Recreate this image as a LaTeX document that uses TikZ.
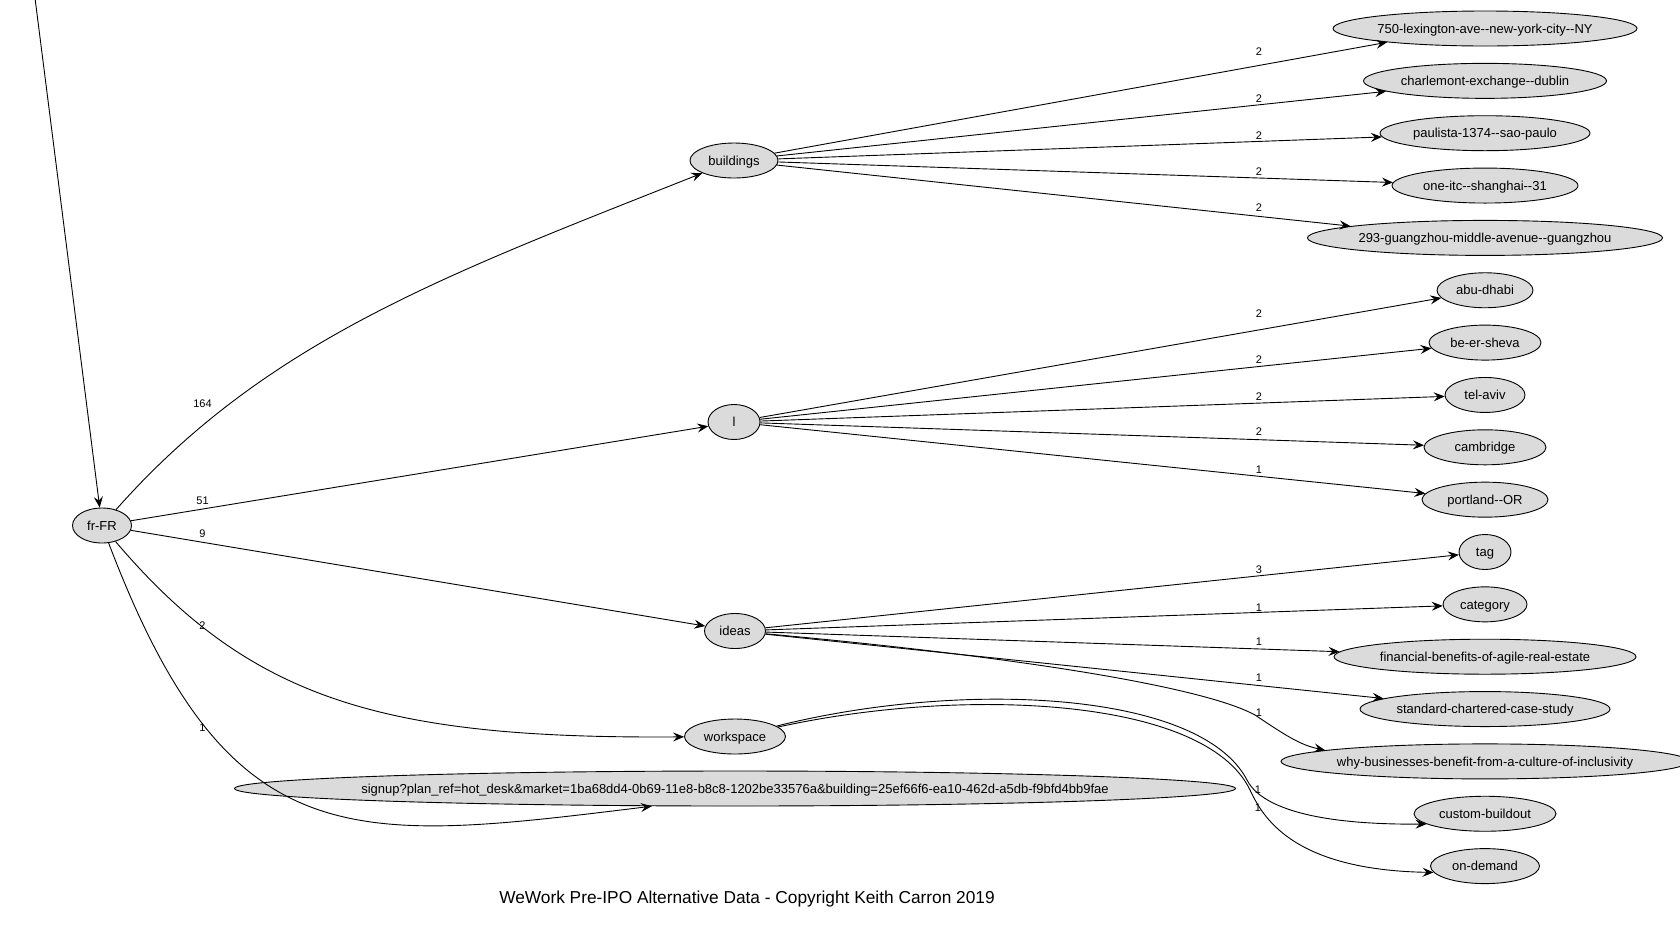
\documentclass[tikz,border=0pt]{standalone}
\usepackage{fontspec}
\setmainfont{Liberation Sans}[Ligatures=TeXOff]
\usetikzlibrary{shapes.geometric,arrows.meta}
\definecolor{nodefill}{RGB}{219,219,219}
% zero-width box: the ellipse size is set only by minimum width/height
\newcommand{\ztext}[1]{\makebox[0pt][c]{#1}}
\begin{document}
\begin{tikzpicture}[x=1pt,y=-1pt,
  nd/.style={ellipse, draw=black, fill=nodefill, line width=0.9pt, inner sep=0pt,
             minimum height=35pt, text height=9.3pt, text depth=0pt,
             font=\fontsize{13}{15}\selectfont},
  lbl/.style={inner sep=0pt, font=\fontsize{11}{13}\selectfont},
  edge/.style={line width=0.9pt, -{Stealth[length=11pt,width=9pt,inset=4pt]}},
]
\useasboundingbox[fill=white] (0,0) rectangle (1680,938);

% ---- nodes ----
\coordinate (top) at (35,-2);
\node[nd, minimum width=59pt]  (fr)    at (102,525.5) {\ztext{fr-FR}};
\node[nd, minimum width=88pt]  (bld)   at (734,160.5) {\ztext{buildings}};
\node[nd, minimum width=52pt]  (lnode) at (734,422)   {\ztext{l}};
\node[nd, minimum width=61pt]  (ideas) at (735,631)   {\ztext{ideas}};
\node[nd, minimum width=101pt] (ws)    at (735,736.5) {\ztext{workspace}};
\node[nd, minimum width=1001pt] (signup) at (735,788.5)
  {\ztext{signup?plan\_ref=hot\_desk\&market=1ba68dd4-0b69-11e8-b8c8-1202be33576a\&building=25ef66f6-ea10-462d-a5db-f9bfd4bb9fae}};

\node[nd, minimum width=304pt] (lex) at (1485,28.5)   {\ztext{750-lexington-ave--new-york-city--NY}};
\node[nd, minimum width=243pt] (dub) at (1485,80.85)  {\ztext{charlemont-exchange--dublin}};
\node[nd, minimum width=210pt] (sao) at (1485,133.2)  {\ztext{paulista-1374--sao-paulo}};
\node[nd, minimum width=186pt] (sha) at (1485,185.55) {\ztext{one-itc--shanghai--31}};
\node[nd, minimum width=355pt] (gz)  at (1485,237.9)  {\ztext{293-guangzhou-middle-avenue--guangzhou}};
\node[nd, minimum width=96pt]  (abu) at (1485,290.25) {\ztext{abu-dhabi}};
\node[nd, minimum width=112pt] (bee) at (1485,342.6)  {\ztext{be-er-sheva}};
\node[nd, minimum width=80pt]  (tlv) at (1485,394.95) {\ztext{tel-aviv}};
\node[nd, minimum width=122pt] (cam) at (1485,447.3)  {\ztext{cambridge}};
\node[nd, minimum width=126pt] (por) at (1485,499.65) {\ztext{portland--OR}};
\node[nd, minimum width=52pt]  (tag) at (1485,552)    {\ztext{tag}};
\node[nd, minimum width=84pt]  (cat) at (1485,604.35) {\ztext{category}};
\node[nd, minimum width=302pt] (fin) at (1485,656.7)  {\ztext{financial-benefits-of-agile-real-estate}};
\node[nd, minimum width=250pt] (std) at (1485,709.05) {\ztext{standard-chartered-case-study}};
\node[nd, minimum width=408pt] (why) at (1485,761.4)  {\ztext{why-businesses-benefit-from-a-culture-of-inclusivity}};
\node[nd, minimum width=142pt] (cb)  at (1485,813.75) {\ztext{custom-buildout}};
\node[nd, minimum width=109pt] (od)  at (1485,866.1)  {\ztext{on-demand}};

\node[anchor=base, inner sep=0pt, font=\fontsize{17.3}{20}\selectfont] (title) at (747,903.3)
  {WeWork Pre-IPO Alternative Data - Copyright Keith Carron 2019};

% ---- edges ----
\draw[edge] (top) -- (fr);
\draw[edge] (fr) .. controls (266,340) and (448,274) .. (bld);
\draw[edge] (fr) -- (lnode);
\draw[edge] (fr) -- (ideas);
\draw[edge] (fr) .. controls (250,700) and (383,739) .. (ws);
\draw[edge] (fr) .. controls (229,860) and (351,843) .. (signup.192);

\draw[edge] (bld) -- (lex.188);
\draw[edge] (bld) -- (dub);
\draw[edge] (bld) -- (sao);
\draw[edge] (bld) -- (sha);
\draw[edge] (bld) -- (gz.175);

\draw[edge] (lnode) -- (abu);
\draw[edge] (lnode) -- (bee);
\draw[edge] (lnode) -- (tlv);
\draw[edge] (lnode) -- (cam);
\draw[edge] (lnode) -- (por);

\draw[edge] (ideas) -- (tag);
\draw[edge] (ideas) -- (cat);
\draw[edge] (ideas) -- (fin);
\draw[edge] (ideas) -- (std);
\draw[edge] (ideas) .. controls (1000,655) and (1200,685) .. (1255,715)
                    .. controls (1285,735) and (1300,745) .. (why.176);

\draw[edge] (ws) .. controls (960,680) and (1200,690) .. (1247,780)
                 .. controls (1258,802) and (1300,825) .. (cb.190);
\draw[edge] (ws) .. controls (960,687) and (1205,696) .. (1250,790)
                 .. controls (1262,815) and (1290,870) .. (od.187);

% ---- edge labels ----
\node[lbl] (e164) at (202.5,404)   {164};
\node[lbl] (e51)  at (202.5,501)   {51};
\node[lbl] (e9)   at (202.5,533.6) {9};
\node[lbl] (e2)   at (202.5,625.7) {2};
\node[lbl] (e1)   at (202.5,727.5) {1};

\node[lbl] (b1) at (1259,51.4)  {2};
\node[lbl] (b2) at (1259,98.6)  {2};
\node[lbl] (b3) at (1259,136)   {2};
\node[lbl] (b4) at (1259,171.4) {2};
\node[lbl] (b5) at (1259,208)   {2};

\node[lbl] (l1) at (1259,314)   {2};
\node[lbl] (l2) at (1259,360)   {2};
\node[lbl] (l3) at (1259,396.4) {2};
\node[lbl] (l4) at (1259,431.8) {2};
\node[lbl] (l5) at (1259,469.3) {1};

\node[lbl] (i1) at (1259,570)   {3};
\node[lbl] (i2) at (1259,607.5) {1};
\node[lbl] (i3) at (1259,641.8) {1};
\node[lbl] (i4) at (1259,678)   {1};
\node[lbl] (i5) at (1259,712.5) {1};

\node[lbl] (w1) at (1258,790) {1};
\node[lbl] (w2) at (1258,808) {1};
\end{tikzpicture}
\end{document}
